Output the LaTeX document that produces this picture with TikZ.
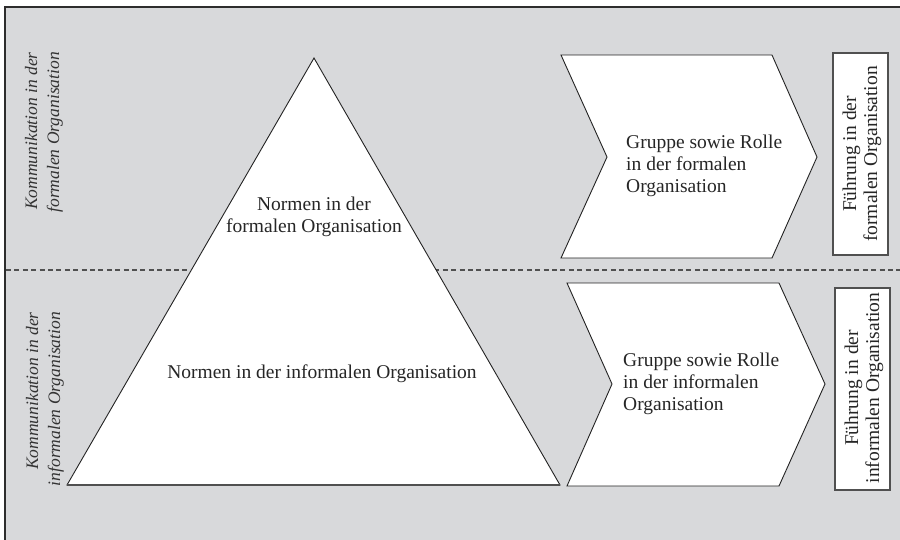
\documentclass[tikz,border=0pt]{standalone}
\usepackage{fontspec}
\setmainfont{Liberation Serif}
\definecolor{bggray}{RGB}{216,217,219}
\definecolor{framecol}{RGB}{45,45,45}
\definecolor{linecol}{RGB}{35,35,35}
\definecolor{dashcol}{RGB}{80,80,80}
\definecolor{boxcol}{RGB}{80,80,80}
\begin{document}
\begin{tikzpicture}[x=1pt,y=-1pt,
  whiteshape/.style={draw=linecol, fill=white, line width=0.9pt, line join=miter},
  boxshape/.style={draw=boxcol, fill=white, line width=1.3pt},
  txt/.style={font=\fontsize{19.5}{22}\selectfont, inner sep=0pt, text=black!85},
  sidetxt/.style={font=\fontsize{17.5}{22}\selectfont\itshape, inner sep=0pt, text=black!80, rotate=90, anchor=east, align=right},
  boxtxt/.style={txt, rotate=90, align=center, font=\fontsize{19.5}{21}\selectfont}
]
\clip (0,0) rectangle (900,539);
\fill[bggray] (5,7) rectangle (930,560);
\draw[framecol, line width=2pt] (5,560) -- (5,7) -- (930,7);
\draw[dashcol, line width=1.3pt, dash pattern=on 5pt off 3.4pt] (6,270) -- (900,270);

% triangle
\coordinate (apex) at (314,58);
\coordinate (bl) at (67,485);
\coordinate (br) at (560,485);
\draw[whiteshape] (apex) -- (br) -- (bl) -- cycle;
\draw[dashcol, line width=1.3pt] (bl) -- (br);
\node[txt, align=center] (nf) at (314,217) {Normen in der\\formalen Organisation};
\node[txt, align=center] (ni) at (322,374) {Normen in der informalen Organisation};

% top chevron
\draw[whiteshape] (561,55) -- (772,55) -- (817,157) -- (772,258) -- (561,258) -- (607,157) -- cycle;
\node[txt, anchor=west, align=left] (gf) at (626,166) {Gruppe sowie Rolle\\in der formalen\\Organisation};

% bottom chevron
\draw[whiteshape] (567,283) -- (779,283) -- (825,384) -- (779,486) -- (567,486) -- (612,384) -- cycle;
\node[txt, anchor=west, align=left] (gi) at (623,384) {Gruppe sowie Rolle\\in der informalen\\Organisation};

% boxes
\draw[boxshape] (833,53) rectangle (888,255);
\node[boxtxt] (ff) at (862,154) {Führung in der\\formalen Organisation};
\draw[boxshape] (835,288) rectangle (890,490);
\node[boxtxt] (fi) at (864,388) {Führung in der\\informalen Organisation};

% side labels
\node[sidetxt] (kf) at (44,52) {Kommunikation in der\\formalen Organisation};
\node[sidetxt] (ki) at (45,312) {Kommunikation in der\\informalen Organisation};
\end{tikzpicture}
\end{document}
